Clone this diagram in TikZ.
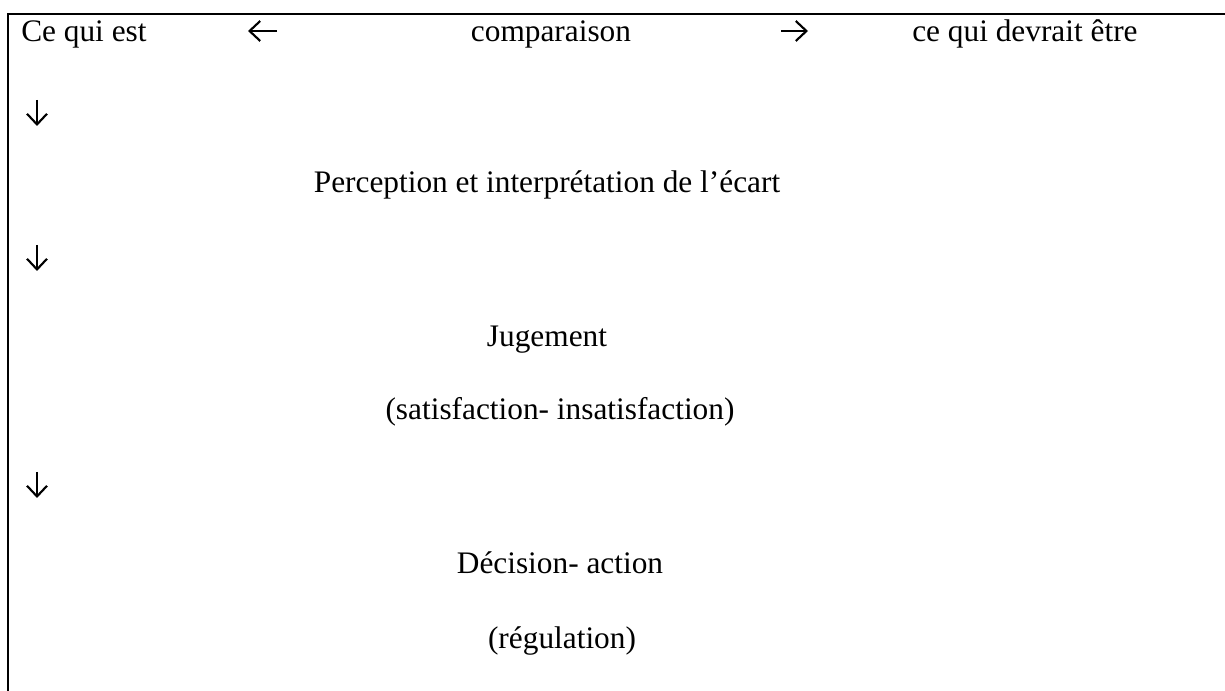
\documentclass[tikz,border=0pt]{standalone}
\usepackage{fontspec}
\setmainfont{Liberation Serif}
\usetikzlibrary{arrows.meta}

\tikzset{
    lbl/.style={inner sep=0pt, font=\fontsize{23.5}{28}\selectfont},
    fleche/.style={line width=1.6pt, ->},
}

\begin{document}
\begin{tikzpicture}[x=0.75pt, y=-0.75pt, >={Straight Barb[length=8pt,width=15pt]}]
    \useasboundingbox (0,0) rectangle (1225,691);

    % cadre
    \draw[line width=1.6pt] (8,691) -- (8,14) -- (1225,14);

    % ligne du haut
    \node[lbl, anchor=base west] (est) at (21,42) {Ce qui est};
    \node[lbl, anchor=base] (comp) at (551,42) {comparaison};
    \node[lbl, anchor=base west] (doit) at (912,42) {ce qui devrait être};

    \coordinate (G1) at (277,31);
    \coordinate (G2) at (248,31);
    \coordinate (D1) at (781,31);
    \coordinate (D2) at (808,31);
    \draw[fleche] (G1) -- (G2);
    \draw[fleche] (D1) -- (D2);

    % etapes
    \node[lbl, anchor=base] (ecart) at (547,193) {Perception et interprétation de l’écart};
    \node[lbl, anchor=base] (jug) at (547,347) {Jugement};
    \node[lbl, anchor=base] (satis) at (560,420) {(satisfaction- insatisfaction)};
    \node[lbl, anchor=base] (dec) at (560,573) {Décision- action};
    \node[lbl, anchor=base] (regul) at (562,648) {(régulation)};

    \coordinate (A1) at (37,100);
    \coordinate (B1) at (37,126);
    \coordinate (A2) at (37,245);
    \coordinate (B2) at (37,271);
    \coordinate (A3) at (37,472);
    \coordinate (B3) at (37,498);
    \draw[fleche] (A1) -- (B1);
    \draw[fleche] (A2) -- (B2);
    \draw[fleche] (A3) -- (B3);
\end{tikzpicture}
\end{document}
